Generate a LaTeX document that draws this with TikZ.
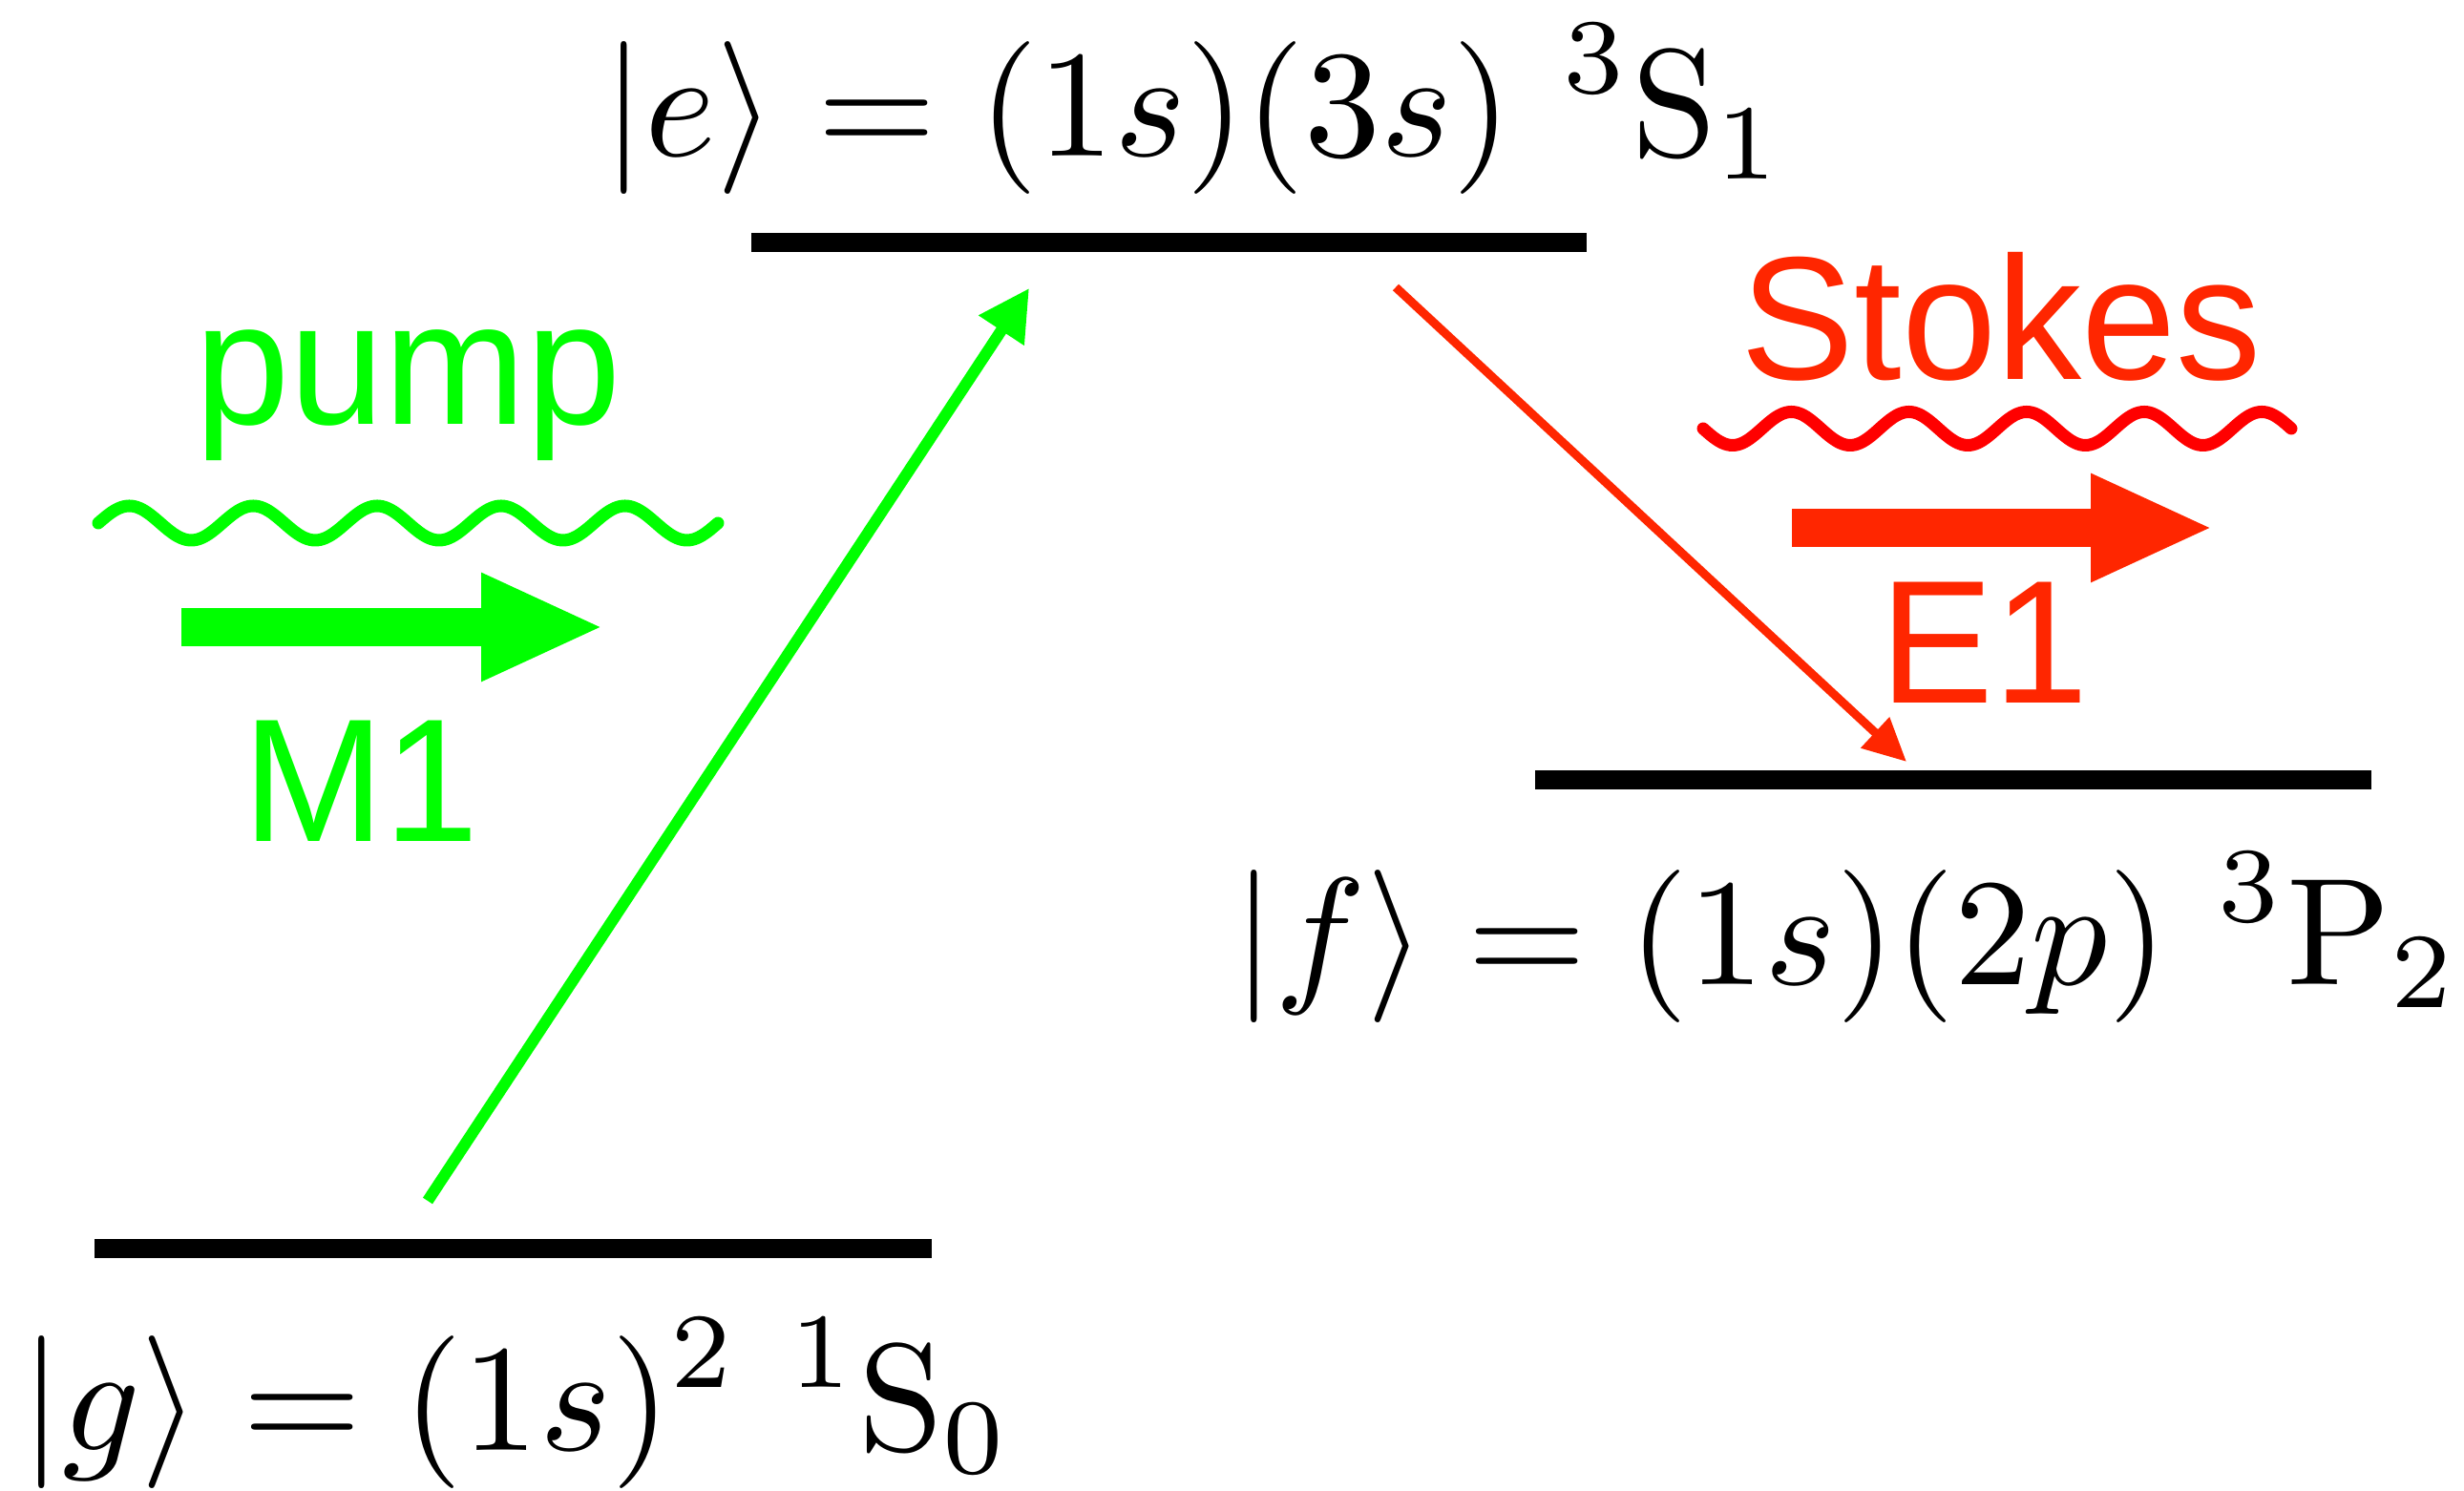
\documentclass[tikz,border=0pt]{standalone}
\usepackage{amsmath,amssymb}
\usepackage{fontspec}
\newfontfamily\labelsf[FakeStretch=0.97]{Liberation Sans}
\usetikzlibrary{arrows.meta}
\definecolor{pumpgreen}{RGB}{0,255,0}
\definecolor{stokesred}{RGB}{255,38,0}
\definecolor{wavered}{RGB}{255,0,0}

\begin{document}
\begin{tikzpicture}[
	level/.style={line width=0.2cm},
	state/.style={anchor=base west, inner sep=0pt, scale=4.55, font=\normalsize},
	tag/.style={anchor=base, inner sep=0pt, scale=5.23, font=\labelsf\normalsize},
	fat/.style={-{Triangle[length=1.29cm, width=1.04cm]}, line width=0.4cm},
	wave/.style={line width=0.13cm, line cap=round}]
	\useasboundingbox (0,0) rectangle (25.81,15.62);
	% levels
	\coordinate (g1) at (0.99,2.54);   \coordinate (g2) at (9.76,2.54);
	\coordinate (e1) at (7.87,13.08);  \coordinate (e2) at (16.62,13.08);
	\coordinate (f1) at (16.08,7.45);  \coordinate (f2) at (24.84,7.45);
	\draw[level] (g1) -- (g2);
	\draw[level] (e1) -- (e2);
	\draw[level] (f1) -- (f2);
	\node[state] (glab) at (0.18,0.42) {$\displaystyle |g\rangle = (1s)^2\ {}^1\mathrm{S}_0$};
	\node[state] (elab) at (6.28,13.98) {$\displaystyle |e\rangle = (1s)(3s)\ {}^3\mathrm{S}_1$};
	\node[state] (flab) at (12.88,5.30) {$\displaystyle |f\rangle = (1s)(2p)\ {}^3\mathrm{P}_2$};
	% transitions
	\coordinate (up0) at (4.48,3.04);    \coordinate (up1) at (10.78,12.60);
	\coordinate (dn0) at (14.62,12.61);  \coordinate (dn1) at (19.97,7.64);
	\draw[pumpgreen, line width=0.12cm, -{Triangle[length=0.53cm, width=0.54cm]}] (up0) -- (up1);
	\draw[stokesred, line width=0.09cm, -{Triangle[length=0.45cm, width=0.42cm]}] (dn0) -- (dn1);
	% pump side
	\node[tag, pumpgreen] (pumplab) at (4.275,11.17) {pump};
	\draw[wave, pumpgreen] plot[domain=0:1800, samples=241, smooth] ({1.03+\x/360*1.298}, {10.14+0.18*sin(\x)});
	\coordinate (m1a) at (1.90,9.05);  \coordinate (m1b) at (6.33,9.05);
	\draw[fat, pumpgreen] (m1a) -- (m1b);
	\node[tag, pumpgreen] (m1lab) at (3.78,6.80) {M1};
	% Stokes side
	\node[tag, stokesred] (stokeslab) at (20.965,11.64) {Stokes};
	\draw[wave, wavered] plot[domain=0:1800, samples=241, smooth] ({17.84+\x/360*1.232}, {11.13-0.175*sin(\x)});
	\coordinate (e1a) at (18.77,10.09);  \coordinate (e1b) at (23.19,10.09);
	\draw[fat, stokesred] (e1a) -- (e1b);
	\node[tag, stokesred] (e1lab) at (20.785,8.25) {E1};
\end{tikzpicture}
\end{document}
